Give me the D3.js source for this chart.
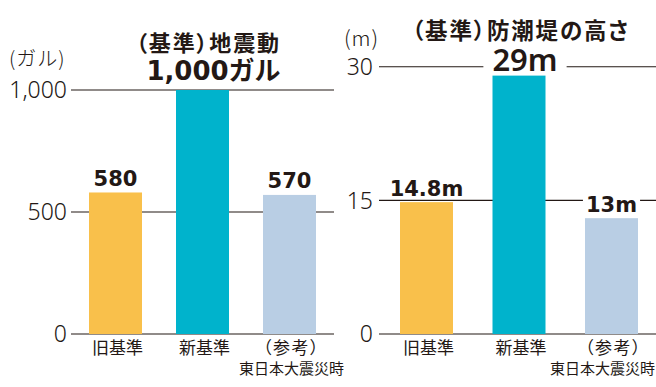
<!DOCTYPE html>
<html><head><meta charset="utf-8">
<script src="https://cdn.jsdelivr.net/npm/d3@7"></script>
<style>
html,body{margin:0;padding:0;background:#fff;}
svg{display:block;}
</style>
</head><body>
<svg id="chart" width="656" height="387"></svg>
<script>
// ---- data ----
const categories = ["旧基準", "新基準", "（参考）"];
const subLabel = "東日本大震災時";
const barColors = ["#F9C04B", "#00B3CC", "#B9CEE4"];

const quakeTitle = "（基準）地震動";
const quakeUnit = "(ガル)";
const quakeValues = [580, 1000, 570];
const quakeValueLabels = ["580", "1,000ガル", "570"];
const quakeTicks = [0, 500, 1000];
const quakeTickLabels = ["0", "500", "1,000"];

const wallTitle = "（基準）防潮堤の高さ";
const wallUnit = "(m)";
const wallValues = [14.8, 29, 13];
const wallValueLabels = ["14.8m", "29m", "13m"];
const wallTicks = [0, 15, 30];
const wallTickLabels = ["0", "15", "30"];

const headlineIndex = 1;

// ---- drawing ----
const svg = d3.select("#chart");
const INK = "#231815";
const W = 656;

function drawPanel(cfg) {
  const g = svg.append("g");
  const y = d3.scaleLinear().domain(cfg.domain).range(cfg.yRange);
  const x = d3.scalePoint().domain(categories).range(cfg.xRange);

  // gridlines
  g.selectAll("line.grid").data(cfg.ticks).join("line")
    .attr("x1", cfg.gridX[0]).attr("x2", cfg.gridX[1])
    .attr("y1", d => y(d)).attr("y2", d => y(d))
    .attr("stroke", INK).attr("stroke-width", 1.1);

  // tick labels
  g.selectAll("text.tick").data(cfg.ticks).join("text")
    .attr("x", cfg.tickX)
    .attr("y", d => y(d))
    .attr("dy", "0.36em")
    .attr("text-anchor", "end")
    .attr("font-family", "'Noto Sans', sans-serif")
    .attr("font-weight", 300).attr("font-size", 23).attr("fill", INK)
    .text((d, i) => cfg.tickLabels[i]);

  // unit
  g.append("text").attr("x", cfg.unitPos[0]).attr("y", cfg.unitPos[1])
    .attr("font-family", "'Noto Sans CJK JP', sans-serif")
    .attr("font-weight", 300).attr("font-size", cfg.unitSize).attr("fill", INK)
    .attr("letter-spacing", 1)
    .text(cfg.unit);

  // bars
  g.selectAll("rect.bar").data(cfg.values).join("rect")
    .attr("x", (d, i) => x(categories[i]) - cfg.barWidth / 2)
    .attr("width", cfg.barWidth)
    .attr("y", d => y(d))
    .attr("height", d => y(0) - y(d))
    .attr("fill", (d, i) => barColors[i]);

  // title
  g.append("text").attr("x", cfg.titlePos[0]).attr("y", cfg.titlePos[1])
    .attr("text-anchor", "middle")
    .attr("font-family", "'Noto Sans CJK JP', sans-serif")
    .attr("font-weight", 700).attr("font-size", cfg.titleSize).attr("fill", INK)
    .style("font-feature-settings", "'palt'")
    .attr("textLength", cfg.titleWidth).attr("lengthAdjust", "spacing")
    .text(cfg.title);

  // value labels with white knockout
  cfg.values.forEach((v, i) => {
    const head = i === headlineIndex;
    const fs = head ? cfg.headSize : 21;
    const cx = x(categories[i]) + (head ? cfg.headDx : 0);
    const by = y(v) - (head ? cfg.headGap : 6.5);
    const t = g.append("text").attr("x", cx).attr("y", by)
      .attr("text-anchor", "middle")
      .attr("font-family", head ? cfg.headFont : "'DejaVu Sans', 'Noto Sans CJK JP', sans-serif")
      .attr("font-weight", head ? cfg.headWeight : 700)
      .attr("font-size", fs).attr("fill", INK)
      .text(cfg.valueLabels[i]);
    const bb = t.node().getBBox();
    const pad = head ? 9 : 3;
    g.insert("rect", () => t.node())
      .attr("x", bb.x - pad).attr("width", bb.width + pad * 2)
      .attr("y", by - fs * 0.76).attr("height", fs * 0.78)
      .attr("fill", "#fff");
  });

  // category labels
  g.selectAll("text.cat").data(categories).join("text")
    .attr("x", d => x(d) + cfg.catDx).attr("y", 354)
    .attr("text-anchor", "middle")
    .attr("font-family", "'Noto Sans CJK JP', sans-serif")
    .attr("font-size", 17).attr("fill", INK)
    .attr("letter-spacing", (d, i) => i === 2 ? 1.5 : 0)
    .style("font-feature-settings", (d, i) => i === 2 ? "'palt'" : null)
    .text(d => d);

  // sub label under the reference category
  const s = g.append("text")
    .attr("x", x(categories[2]) + 2).attr("y", 374)
    .attr("text-anchor", "middle")
    .attr("font-family", "'Noto Sans CJK JP', sans-serif")
    .attr("font-size", 15).attr("fill", INK)
    .text(subLabel);
  const sb = s.node().getBBox();
  if (sb.x + sb.width > W - 1) {
    s.attr("text-anchor", "end").attr("x", W - 1);
  }
}

drawPanel({
  domain: [0, 1000], yRange: [334, 90], xRange: [115.5, 289.5],
  gridX: [71, 334], tickX: 67, barWidth: 53,
  ticks: quakeTicks, tickLabels: quakeTickLabels,
  unit: quakeUnit, unitPos: [9, 66], unitSize: 20,
  values: quakeValues, valueLabels: quakeValueLabels,
  title: quakeTitle, titlePos: [207.5, 51], titleSize: 22, titleWidth: 143,
  headSize: 26, headDx: 11, headGap: 10, headWeight: 700,
  headFont: "'DejaVu Sans', 'Noto Sans CJK JP', sans-serif",
  catDx: 2
});

drawPanel({
  domain: [0, 30], yRange: [334, 66.7], xRange: [426.5, 611.5],
  gridX: [379, 656], tickX: 373, barWidth: 53,
  ticks: wallTicks, tickLabels: wallTickLabels,
  unit: wallUnit, unitPos: [344, 46], unitSize: 21,
  values: wallValues, valueLabels: wallValueLabels,
  title: wallTitle, titlePos: [520, 39], titleSize: 22.5, titleWidth: 216,
  headSize: 31, headDx: 6, headGap: 5, headWeight: 600,
  headFont: "'Noto Sans', 'DejaVu Sans', sans-serif",
  catDx: 2
});
</script>
</body></html>
